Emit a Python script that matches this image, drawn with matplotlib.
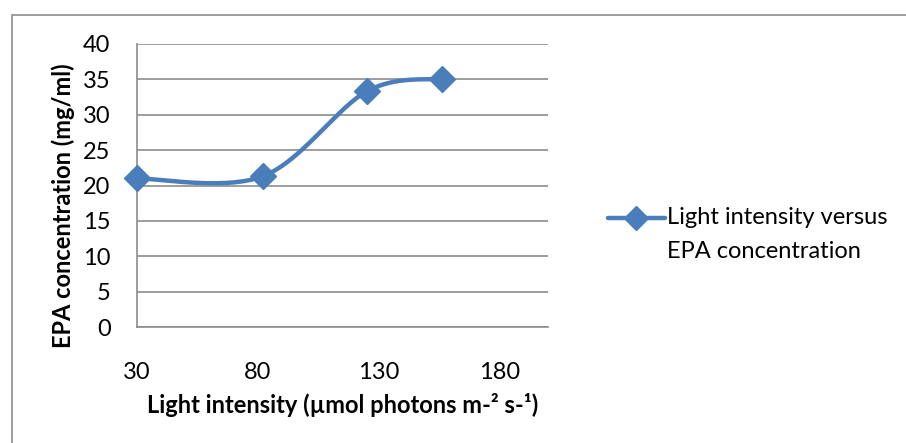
import numpy as np
import matplotlib
matplotlib.use("Agg")
import matplotlib.pyplot as plt
from matplotlib.lines import Line2D
from matplotlib.patches import Rectangle

plt.rcParams['font.family'] = ['Lato', 'DejaVu Sans']

light = [30, 82, 125, 156]
epa = [21.0, 21.3, 33.3, 35.1]
x_ticks = [30, 80, 130, 180]
y_ticks = [0, 5, 10, 15, 20, 25, 30, 35, 40]
series_name = "Light intensity versus\nEPA concentration"

BLUE = "#4A7EBB"
GRID = "#8C8C8C"
FS = 17


def smooth(xs, ys, n=60):
    # cubic bezier through the points, tangents from neighbouring points
    p = np.column_stack([xs, ys]).astype(float)
    ext = np.vstack([p[0], p, p[-1]])
    out = []
    t = np.linspace(0, 1, n)[:, None]
    for i in range(len(p) - 1):
        p0, p1 = ext[i + 1], ext[i + 2]
        c1 = p0 + (ext[i + 2] - ext[i]) / 6
        c2 = p1 - (ext[i + 3] - ext[i + 1]) / 6
        seg = ((1 - t) ** 3 * p0 + 3 * (1 - t) ** 2 * t * c1
               + 3 * (1 - t) * t ** 2 * c2 + t ** 3 * p1)
        out.append(seg if i == 0 else seg[1:])
    out = np.vstack(out)
    return out[:, 0], out[:, 1]


W, H = 906, 443
fig = plt.figure(figsize=(W / 100, H / 100), dpi=100)
fig.add_artist(Rectangle((11.5 / W, -0.1), 2, (H - 14.5) / H + 0.1,
                         transform=fig.transFigure, fill=False,
                         edgecolor="#8E8E8E", linewidth=1.2))

ax = fig.add_axes([137 / W, (H - 327) / H, 411 / W, 283 / H])
sx, sy = smooth(light, epa)
ax.plot(sx, sy, color=BLUE, linewidth=3.2, solid_capstyle="round", zorder=3)
ax.plot(light, epa, linestyle="none", marker="D", markersize=13,
        color=BLUE, zorder=4, clip_on=False)

ax.set_xlim(30, 200)
ax.set_ylim(0, 40)
ax.set_xticks(x_ticks)
ax.set_yticks(y_ticks)
ax.yaxis.grid(True, color=GRID, linewidth=1.2)
ax.set_axisbelow(True)
for side in ["top", "right"]:
    ax.spines[side].set_visible(False)
for side in ["left", "bottom"]:
    ax.spines[side].set_color(GRID)
    ax.spines[side].set_linewidth(1.2)
ax.tick_params(axis="both", length=0, labelsize=FS, colors="black")
ax.tick_params(axis="x", pad=25)
ax.tick_params(axis="y", pad=19)

fig.text(343 / W, 1 - 405 / H, "Light intensity (\u00b5mol photons m-\u00b2 s-\u00b9)",
         ha="center", va="center", fontsize=FS, fontweight="bold")
fig.text(63 / W, 1 - 206 / H, "EPA concentration (mg/ml)", rotation=90,
         ha="center", va="center", fontsize=FS, fontweight="bold")

# legend entry
fig.add_artist(Line2D([608 / W, 665 / W], [1 - 218 / H, 1 - 218 / H],
                      transform=fig.transFigure, color=BLUE, linewidth=3.2,
                      solid_capstyle="round"))
fig.add_artist(Line2D([636 / W], [1 - 218 / H], transform=fig.transFigure,
                      marker="D", markersize=12, color=BLUE))
fig.text(667 / W, 1 - 207 / H, series_name, ha="left", va="top",
         fontsize=FS, linespacing=1.75)

fig.savefig("out.png", dpi=100)
